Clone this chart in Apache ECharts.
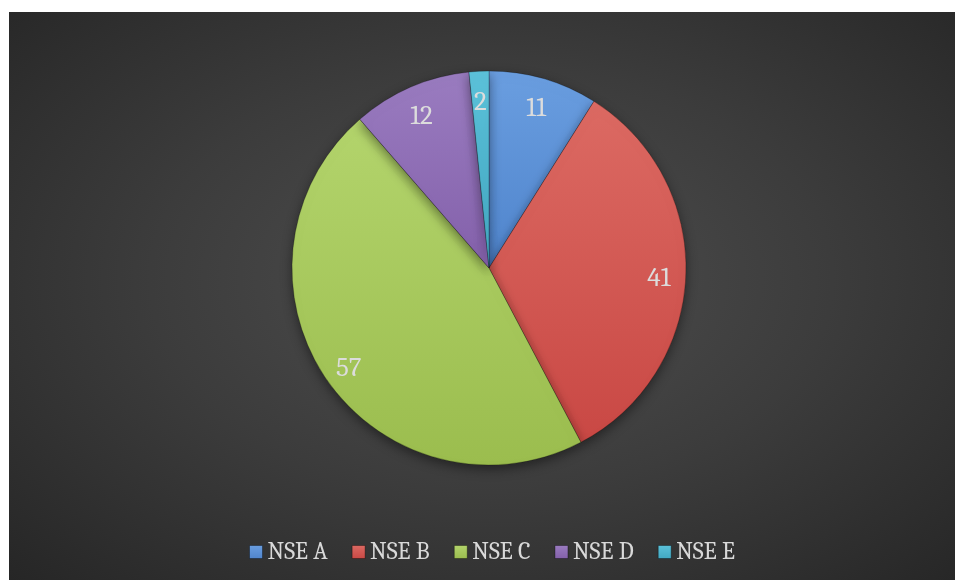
<!DOCTYPE html>
<html>
<head>
<meta charset="utf-8">
<script src="https://cdn.jsdelivr.net/npm/echarts@6/dist/echarts.min.js"></script>
<style>
  html, body { margin: 0; padding: 0; background: #fff; }
  #main {
    position: absolute; left: 9px; top: 12px; width: 946px; height: 568px;
    background: radial-gradient(farthest-corner at 51% 47%, #4f4f4f 0%, #3c3c3c 50%, #262626 100%);
  }
</style>
</head>
<body>
<div id="main"></div>
<script>
// slice names and values
const names = ['NSE A', 'NSE B', 'NSE C', 'NSE D', 'NSE E'];
const values = [11, 41, 57, 12, 2];
// [top, bottom] shades per slice
const shades = [
  ['#6a9ee0', '#4f84cc'],
  ['#dc6a63', '#c94844'],
  ['#b3d46c', '#9bbd4e'],
  ['#9a7cc0', '#8360aa'],
  ['#5cc2da', '#41a8c2']
];

const FONT = 'Cambria, "Liberation Serif", serif';
const chart = echarts.init(document.getElementById('main'));

function fillFor(i) {
  return new echarts.graphic.LinearGradient(0, 0, 0, 1, [
    { offset: 0, color: shades[i][0] },
    { offset: 1, color: shades[i][1] }
  ]);
}

const pieData = names.map((n, i) => ({
  name: n,
  value: values[i],
  itemStyle: { color: fillFor(i) }
}));

const labelData = names.map((n, i) => ({ name: n, value: values[i] }));

chart.setOption({
  animation: false,
  legend: {
    data: names.map((n, i) => ({ name: n, itemStyle: { color: fillFor(i), borderColor: 'rgba(0,0,0,0.35)', borderWidth: 1 } })),
    left: 235,
    top: 523,
    icon: 'rect',
    itemWidth: 13,
    itemHeight: 13,
    itemGap: 24,
    textStyle: { color: '#d9d9d9', fontFamily: FONT, fontSize: 24 }
  },
  series: [
    {
      type: 'pie',
      center: [480, 256],
      radius: 197,
      startAngle: 90,
      clockwise: true,
      silent: true,
      label: { show: false },
      labelLine: { show: false },
      itemStyle: {
        borderColor: 'rgba(0,0,0,0.25)',
        borderWidth: 1,
        shadowBlur: 12,
        shadowOffsetY: 4,
        shadowColor: 'rgba(0,0,0,0.45)'
      },
      data: pieData
    },
    {
      // transparent ring only to place the value labels near the rim
      type: 'pie',
      center: [480, 256],
      radius: [147, 187],
      startAngle: 90,
      clockwise: true,
      silent: true,
      itemStyle: { color: 'rgba(0,0,0,0)' },
      label: {
        show: true,
        position: 'inside',
        formatter: '{c}',
        color: '#dcdcdc',
        fontFamily: FONT,
        fontSize: 27,
        offset: [0, 4]
      },
      labelLine: { show: false },
      data: labelData
    }
  ]
});
</script>
</body>
</html>
